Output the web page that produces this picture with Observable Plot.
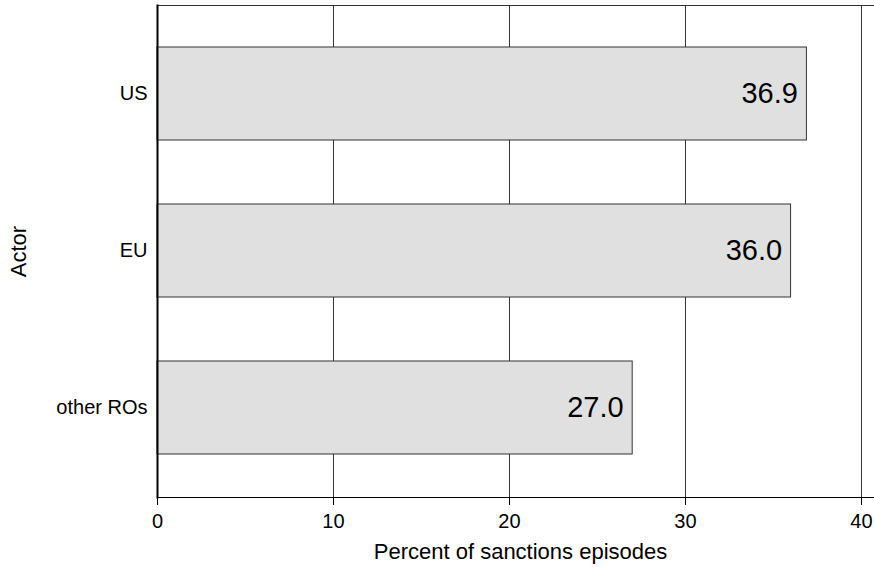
<!DOCTYPE html>
<html>
<head>
<meta charset="utf-8">
<script src="https://cdn.jsdelivr.net/npm/d3@7"></script>
<script src="https://cdn.jsdelivr.net/npm/@observablehq/plot@0.6"></script>
<style>
  body { margin: 0; background: #fff; }
</style>
</head>
<body>
<div id="chart"></div>
<script>
const actors = ["US", "EU", "other ROs"];
const percents = [36.9, 36.0, 27.0];
const xTicks = [0, 10, 20, 30, 40];
const xLabel = "Percent of sanctions episodes";
const yLabel = "Actor";

const data = actors.map((a, i) => ({ actor: a, pct: percents[i], label: percents[i].toFixed(1) }));

const chart = Plot.plot({
  width: 874,
  height: 567,
  marginTop: 5,
  marginBottom: 70,
  marginLeft: 157,
  marginRight: 0,
  style: { fontFamily: "'Liberation Sans', Arial, sans-serif", fontSize: "20px", color: "#000", background: "#fff" },
  x: { domain: [0, 40.74] },
  y: { domain: actors, paddingInner: 0.405, paddingOuter: 0.26 },
  marks: [
    Plot.gridX(xTicks, { stroke: "#333", strokeOpacity: 1, strokeWidth: 1 }),
    Plot.barX(data, { x: "pct", y: "actor", fill: "#e0e0e0", stroke: "#333", strokeWidth: 1 }),
    Plot.text(data, { x: "pct", y: "actor", text: "label", textAnchor: "end", dx: -9, fontSize: 29, fill: "#000" }),
    Plot.frame({ anchor: "top", stroke: "#333", strokeWidth: 1.2 }),
    Plot.frame({ anchor: "bottom", stroke: "#000", strokeWidth: 1 }),
    Plot.frame({ anchor: "left", stroke: "#000", strokeWidth: 2 }),
    Plot.axisX(xTicks, { anchor: "bottom", tickSize: 8, tickPadding: 8.5, fontSize: 20, label: null, stroke: "#000" }),
    Plot.axisY({ anchor: "left", tickSize: 0, tickPadding: 10, fontSize: 20, label: null }),
    Plot.text([xLabel], { frameAnchor: "bottom", lineAnchor: "middle", textAnchor: "middle", dx: 4.5, dy: 54, fontSize: 22, fill: "#000" }),
    Plot.text([yLabel], { frameAnchor: "left", lineAnchor: "middle", textAnchor: "middle", rotate: -90, dx: -139, fontSize: 22, fill: "#000" })
  ]
});
document.getElementById("chart").appendChild(chart);
</script>
</body>
</html>
